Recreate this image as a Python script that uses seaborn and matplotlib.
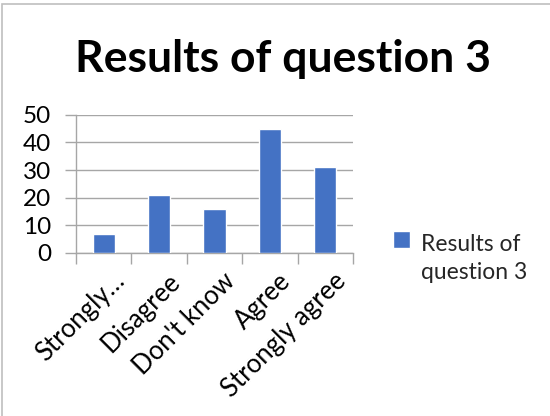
import matplotlib
matplotlib.use("Agg")
import matplotlib.pyplot as plt
import matplotlib.transforms as mtransforms
import seaborn as sns
import numpy as np
from matplotlib.patches import Rectangle

categories = ["Strongly…", "Disagree", "Don't know", "Agree", "Strongly agree"]
values = [7, 21, 16, 45, 31]
series_name = "Results of question 3"
yticks = [0, 10, 20, 30, 40, 50]

sns.set_theme(style="white")
plt.rcParams['font.family'] = ['Lato', 'DejaVu Sans']

fig = plt.figure(figsize=(5.5, 4.16), dpi=100)
ax = fig.add_axes([0.138, 0.392, 0.504, 0.332])

sns.barplot(x=categories, y=values, color="#4472C4", width=0.4, ax=ax,
            saturation=1, label="Results of\nquestion 3", zorder=3)

gc = "#a6a6a6"
ax.set_xlim(-0.5, 4.5)
ax.set_ylim(0, 50)
ax.set_yticks(yticks)
ax.set_yticklabels([str(t) for t in yticks], fontsize=17.5, color="black")
ax.grid(axis="y", color=gc, linewidth=1, zorder=0)
ax.set_axisbelow(True)
for s in ["top", "right"]:
    ax.spines[s].set_visible(False)
ax.spines["left"].set_color(gc)
ax.spines["bottom"].set_color(gc)
ax.spines["left"].set_linewidth(1)
ax.spines["bottom"].set_linewidth(1)

ax.tick_params(axis="y", which="major", left=True, length=8, color=gc, width=1, pad=10)
ax.set_xticks(np.arange(len(categories)))
ax.set_xticklabels(categories, rotation=45, ha="right", rotation_mode="anchor",
                   fontsize=18.5, color="black")
ax.tick_params(axis="x", which="major", length=0, pad=11)
offset = mtransforms.ScaledTranslation(6 / 72, 0, fig.dpi_scale_trans)
for lbl in ax.get_xticklabels():
    lbl.set_transform(lbl.get_transform() + offset)
ax.set_xticks(np.arange(-0.5, len(categories), 1.0), minor=True)
ax.tick_params(axis="x", which="minor", bottom=True, length=8, color=gc, width=1)
ax.set_xlabel("")
ax.set_ylabel("")

leg = ax.legend(loc="center left", bbox_to_anchor=(1.07, -0.04), frameon=False,
                fontsize=16.5, handlelength=0.75, handleheight=0.75, handletextpad=0.45,
                labelspacing=0.2)
for t in leg.get_texts():
    t.set_linespacing(1.45)
h = leg.legend_handles[0]
h.set_y(h.get_y() + 14)

fig.text(0.515, 0.858, "Results of question 3", ha="center", va="center",
         fontsize=32, fontweight="bold", color="black")

fig.patches.append(Rectangle((0.004, -0.01), 1.2, 1.0, transform=fig.transFigure,
                             fill=False, edgecolor="#bfbfbf", linewidth=1.2))

fig.savefig("out.png", dpi=100)
